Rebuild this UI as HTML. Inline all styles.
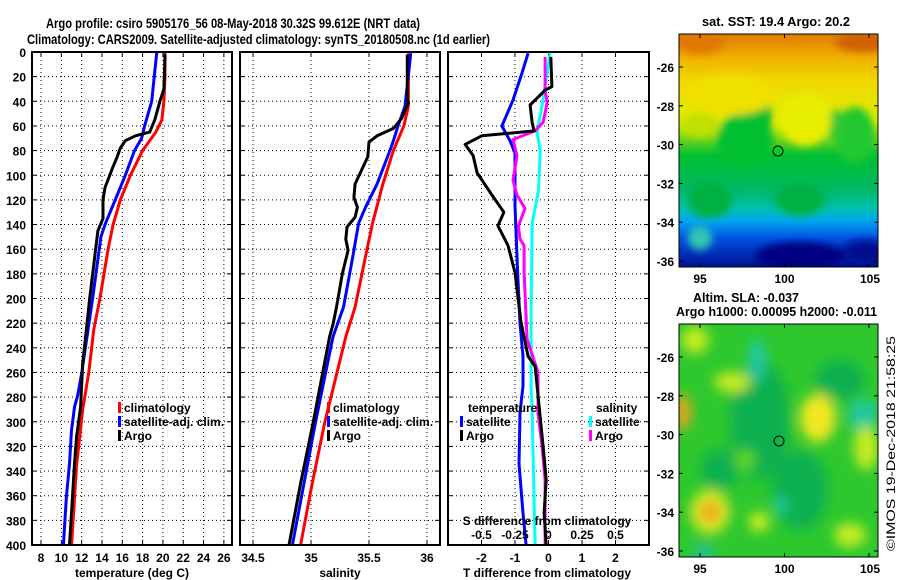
<!DOCTYPE html>
<html><head><meta charset="utf-8"><style>
body{margin:0;background:#fff;}
svg{display:block;font-family:"Liberation Sans",sans-serif;}
text{font-weight:bold;fill:#000;}
</style></head><body>
<svg id="chart" width="900" height="580" viewBox="0 0 900 580" xmlns="http://www.w3.org/2000/svg">
<defs>
<filter id="blur1" x="-20%" y="-20%" width="140%" height="140%"><feGaussianBlur stdDeviation="4"/></filter>
<filter id="blur2" x="-20%" y="-20%" width="140%" height="140%"><feGaussianBlur stdDeviation="6"/></filter>
<clipPath id="cm1"><rect x="679" y="34" width="199" height="233"/></clipPath>
<clipPath id="cm2"><rect x="679" y="324" width="199" height="233"/></clipPath>
<linearGradient id="sstg" x1="0" y1="0" x2="0" y2="1">
<stop offset="0" stop-color="#e07a00"/><stop offset="0.1" stop-color="#f0b000"/><stop offset="0.2" stop-color="#f0d800"/>
<stop offset="0.38" stop-color="#e0ee00"/><stop offset="0.46" stop-color="#60d020"/><stop offset="0.52" stop-color="#00c030"/>
<stop offset="0.66" stop-color="#00b860"/><stop offset="0.75" stop-color="#00c0b0"/><stop offset="0.8" stop-color="#00a8f0"/>
<stop offset="0.88" stop-color="#0050e0"/><stop offset="1" stop-color="#001090"/></linearGradient>
</defs>
<text x="46" y="28" font-size="14" textLength="374" lengthAdjust="spacingAndGlyphs">Argo profile: csiro 5905176_56 08-May-2018 30.32S 99.612E (NRT data)</text>
<text x="27" y="44" font-size="14" textLength="463" lengthAdjust="spacingAndGlyphs">Climatology: CARS2009. Satellite-adjusted climatology: synTS_20180508.nc (1d earlier)</text>
<g id="panels"></g>

<!-- SST map -->
<text x="702" y="26" font-size="13" textLength="148" lengthAdjust="spacingAndGlyphs">sat. SST: 19.4 Argo: 20.2</text>
<g clip-path="url(#cm1)">
<rect x="679" y="34" width="199" height="233" fill="url(#sstg)"/>
<g filter="url(#blur1)">
<ellipse cx="745" cy="140" rx="28" ry="28" fill="#00c030"/>
<ellipse cx="760" cy="118" rx="12" ry="22" fill="#00c030"/>
<ellipse cx="855" cy="135" rx="20" ry="28" fill="#20c830"/>
<ellipse cx="835" cy="125" rx="10" ry="15" fill="#30c830"/>
<ellipse cx="805" cy="120" rx="26" ry="26" fill="#e8ee00"/>
<ellipse cx="700" cy="125" rx="20" ry="12" fill="#c0e000"/>
<ellipse cx="710" cy="200" rx="22" ry="18" fill="#00b040"/>
<ellipse cx="800" cy="200" rx="25" ry="16" fill="#00b040"/>
<ellipse cx="700" cy="238" rx="12" ry="12" fill="#30c8b0"/>
<ellipse cx="800" cy="256" rx="45" ry="14" fill="#000080"/>
<ellipse cx="865" cy="252" rx="22" ry="12" fill="#001090"/>
<ellipse cx="730" cy="95" rx="45" ry="20" fill="#f0e000"/>
<ellipse cx="865" cy="42" rx="30" ry="10" fill="#d06000"/>
<ellipse cx="700" cy="42" rx="25" ry="12" fill="#e07800"/>
</g>
<circle cx="778" cy="151" r="5" fill="#00d020" stroke="#000" stroke-width="1"/>
</g>
<rect x="679" y="34" width="199" height="233" fill="none" stroke="#000" stroke-width="1"/>
<g id="map1axes"></g>

<text x="693" y="302" font-size="13" textLength="106" lengthAdjust="spacingAndGlyphs">Altim. SLA: -0.037</text>
<text x="676" y="316" font-size="13" textLength="201" lengthAdjust="spacingAndGlyphs">Argo h1000: 0.00095 h2000: -0.011</text>

<!-- SLA map -->
<g clip-path="url(#cm2)">
<rect x="679" y="324" width="199" height="233" fill="#2ec82e"/>
<g filter="url(#blur2)">
<ellipse cx="760" cy="420" rx="30" ry="60" fill="#10b050"/>
<ellipse cx="800" cy="490" rx="28" ry="40" fill="#10b050"/>
<ellipse cx="840" cy="380" rx="25" ry="20" fill="#10b050"/>
<ellipse cx="720" cy="470" rx="20" ry="20" fill="#10b050"/>
<ellipse cx="757" cy="360" rx="9" ry="22" fill="#20c8a0"/>
<ellipse cx="863" cy="415" rx="15" ry="16" fill="#20c8a0"/>
<ellipse cx="818" cy="418" rx="18" ry="24" fill="#f0e820"/>
<ellipse cx="683" cy="412" rx="8" ry="18" fill="#f0a020"/>
<ellipse cx="710" cy="512" rx="20" ry="22" fill="#d8e820"/>
<ellipse cx="710" cy="512" rx="10" ry="10" fill="#f0a020"/>
<ellipse cx="732" cy="382" rx="18" ry="10" fill="#c8ec20"/>
<ellipse cx="866" cy="448" rx="12" ry="22" fill="#c8ec20"/>
<ellipse cx="850" cy="535" rx="16" ry="12" fill="#c8ec20"/>
<ellipse cx="759" cy="522" rx="10" ry="10" fill="#d0ec20"/>
<ellipse cx="703" cy="553" rx="10" ry="9" fill="#20c0a0"/>
<ellipse cx="781" cy="505" rx="7" ry="8" fill="#20c8a0"/>
<ellipse cx="695" cy="340" rx="14" ry="14" fill="#c0ec20"/>
<ellipse cx="745" cy="460" rx="10" ry="10" fill="#60d820"/>
</g>
<circle cx="779" cy="441" r="5" fill="none" stroke="#000" stroke-width="1"/>
</g>
<rect x="679" y="324" width="199" height="233" fill="none" stroke="#000" stroke-width="1"/>
<g id="map2axes"></g>
<text transform="translate(895,551) rotate(-90)" font-size="12" style="font-weight:normal" textLength="215" lengthAdjust="spacingAndGlyphs">©IMOS 19-Dec-2018 21:58:25</text>
</svg>
<script>
// ---------- data ----------
const depthTicks = [0,20,40,60,80,100,120,140,160,180,200,220,240,260,280,300,320,340,360,380,400];
const tempTicks = [8,10,12,14,16,18,20,22,24,26];
const salTicks = [34.5,35,35.5,36];
const salTickLabels = ["34.5","35","35.5","36"];
const tdiffTicks = [-2,-1,0,1,2];
const sdiffTicks = [-0.5,-0.25,0,0.25,0.5];
const sdiffTickLabels = ["-0.5","-0.25","0","0.25","0.5"];

const tClimDepth = [0,20,40,55,65,80,100,120,140,160,200,225,260,290,335,375,400];
const tClimVal   = [20.2,20.2,20.1,19.9,19.3,18.0,16.8,15.8,15.1,14.6,13.8,13.2,12.7,12.1,11.5,11.2,11.0];
const tSatDepth = [0,40,60,70,80,100,120,140,150,199,261,279,288,307,334,361,400];
const tSatVal   = [19.4,18.9,18.2,17.9,17.2,16.3,15.3,14.3,13.9,13.1,12.0,11.6,11.3,11.0,10.8,10.5,10.2];
const tArgoDepth = [2,30,40,55,65,68,72,78,85,95,110,120,135,145,199,253,288,312,334,361,400];
const tArgoVal   = [20.2,20.1,19.7,19.2,18.7,17.3,16.3,15.8,15.5,15.0,14.3,14.1,14.1,13.6,12.8,12.1,11.9,11.5,11.3,11.1,10.8];

const sClimDepth = [1,44,60,80,107,139,166,207,231,300,350,400];
const sClimVal   = [35.84,35.84,35.80,35.71,35.62,35.53,35.47,35.38,35.30,35.12,35.01,34.91];
const sSatDepth = [1,44,60,72,80,107,126,139,166,207,231,300,350,400];
const sSatVal   = [35.86,35.81,35.75,35.71,35.68,35.57,35.47,35.41,35.36,35.28,35.19,35.04,34.94,34.84];
const sArgoDepth = [2,39,41,54,62,68,73,85,93,107,118,126,134,142,152,161,180,207,221,231,300,350,400];
const sArgoVal   = [35.83,35.83,35.84,35.78,35.71,35.57,35.50,35.49,35.45,35.38,35.37,35.40,35.38,35.31,35.30,35.32,35.27,35.22,35.19,35.16,35.02,34.91,34.81];

const dtSatDepth = [1,17,39,60,72,82,125,180,220,247,271,293,334,374,400];
const dtSatVal   = [-0.61,-0.79,-1.06,-1.39,-1.15,-1.0,-1.0,-0.92,-0.85,-0.76,-0.76,-0.85,-0.88,-0.76,-0.67];
const dtArgoDepth = [4,28,31,43,57,64,68,75,84,98,116,130,141,157,179,219,247,255,271,320,347,374,400];
const dtArgoVal   = [0.07,0.10,-0.10,-0.55,-0.49,-0.43,-1.99,-2.49,-2.25,-2.13,-1.69,-1.33,-1.51,-1.21,-1.0,-0.82,-0.61,-0.40,-0.34,-0.16,-0.07,-0.13,-0.07];
const dsSatDepth = [1,43,65,80,112,139,207,271,293,400];
const dsSatVal   = [0.012,-0.048,-0.085,-0.062,-0.075,-0.122,-0.130,-0.130,-0.122,-0.10];
const dsArgoDepth = [4,31,41,57,64,71,84,104,116,127,141,152,157,179,233,260,271,293,320,347,400];
const dsArgoVal   = [-0.025,-0.025,-0.010,-0.040,-0.10,-0.265,-0.235,-0.265,-0.235,-0.175,-0.225,-0.212,-0.182,-0.182,-0.16,-0.078,-0.078,-0.078,-0.048,-0.025,-0.025];

const mapLatTicks = [-26,-28,-30,-32,-34,-36];
const mapLonTicks = [95,100,105];

// ---------- helpers ----------
const NS = "http://www.w3.org/2000/svg";
const root = document.getElementById('panels');
function el(tag, attrs, parent){
  const e = document.createElementNS(NS, tag);
  for (const k in attrs) e.setAttribute(k, attrs[k]);
  (parent||root).appendChild(e);
  return e;
}
const Y0 = 52, Y1 = 545;
const yD = d => Y0 + d*(Y1-Y0)/400;

function makePanel(name, x0, x1, vmin, vmax){
  const xs = v => x0 + (v-vmin)*(x1-x0)/(vmax-vmin);
  const g = el('g', {});
  
  
  return {x0, x1, xs, g};
}
function grid(p, ticks, labels, labY){
  for (const d of depthTicks){
    if (d===0||d===400) continue;
    const l = el('line', {x1:p.x0, x2:p.x1, y1:yD(d), y2:yD(d), stroke:'#000', 'stroke-width':1, 'stroke-dasharray':'1,3'}, p.g);
    
    
    el('line', {x1:p.x0, x2:p.x0+5, y1:yD(d), y2:yD(d), stroke:'#000', 'stroke-width':1}, p.g);
    el('line', {x1:p.x1-5, x2:p.x1, y1:yD(d), y2:yD(d), stroke:'#000', 'stroke-width':1}, p.g);
  }
  ticks.forEach((v,i)=>{
    const x = p.xs(v);
    const l = el('line', {x1:x, x2:x, y1:Y0, y2:Y1, stroke:'#000', 'stroke-width':1, 'stroke-dasharray':'1,3'}, p.g);
    
    
    el('line', {x1:x, x2:x, y1:Y0, y2:Y0+5, stroke:'#000', 'stroke-width':1}, p.g);
    el('line', {x1:x, x2:x, y1:Y1-5, y2:Y1, stroke:'#000', 'stroke-width':1}, p.g);
    if (labels){
      const t = el('text', {x:x, y:labY, 'font-size':12, 'text-anchor':'middle'}, p.g);
      t.textContent = labels[i];
      
      
    }
  });
}
function frame(p){
  const r = el('rect', {x:p.x0, y:Y0, width:p.x1-p.x0, height:Y1-Y0, fill:'none', stroke:'#000', 'stroke-width':2}, p.g);
  
  
}
function series(p, name, depths, vals, color, scale){
  const pts = depths.map((d,i)=> p.xs(vals[i]*(scale||1)).toFixed(1)+','+yD(d).toFixed(1)).join(' ');
  const l = el('polyline', {points:pts, fill:'none', stroke:color, 'stroke-width':3, 'stroke-linejoin':'round'}, p.g);
  
  
}
function label(p, name, txt, x, y, size, anchor, len){
  const t = el('text', {x:x, y:y, 'font-size':size||12, 'text-anchor':anchor||'start'}, p.g);
  if (len){ t.setAttribute('textLength', len); t.setAttribute('lengthAdjust','spacingAndGlyphs'); }
  t.textContent = txt;
  
  
}
function legendEntry(p, name, txt, x, y, color){
  const r = el('rect', {x:x, y:y-10, width:3, height:11, fill:color}, p.g);
  
  
  label(p, name, txt, x+6, y, 12);
}

// ---------- panel 1: temperature ----------
const p1 = makePanel('temperature-panel', 32, 232, 7.113, 26.8);
grid(p1, tempTicks, tempTicks.map(String), 562);
depthTicks.forEach(d=>{
  const t = el('text', {x:26, y:yD(d)+5, 'font-size':12, 'text-anchor':'end'}, p1.g);
  t.textContent = d;
  
  
});
series(p1, 'temp-climatology-line', tClimDepth, tClimVal, '#ff0000');
series(p1, 'temp-satellite-line', tSatDepth, tSatVal, '#0000ff');
series(p1, 'temp-argo-line', tArgoDepth, tArgoVal, '#000000');
frame(p1);
label(p1, 'temperature-axis-title', 'temperature (deg C)', 132, 577, 12, 'middle');
legendEntry(p1, 'legend-climatology', 'climatology', 118, 412, '#ff0000');
legendEntry(p1, 'legend-satellite-adj', 'satellite-adj. clim.', 118, 426, '#0000ff');
legendEntry(p1, 'legend-argo', 'Argo', 118, 440, '#000000');

// ---------- panel 2: salinity ----------
const p2 = makePanel('salinity-panel', 240, 440, 34.388, 36.112);
grid(p2, salTicks, salTickLabels, 562);
series(p2, 'sal-climatology-line', sClimDepth, sClimVal, '#ff0000');
series(p2, 'sal-satellite-line', sSatDepth, sSatVal, '#0000ff');
series(p2, 'sal-argo-line', sArgoDepth, sArgoVal, '#000000');
frame(p2);
label(p2, 'salinity-axis-title', 'salinity', 340, 577, 12, 'middle');
legendEntry(p2, 'legend-sal-climatology', 'climatology', 327, 412, '#ff0000');
legendEntry(p2, 'legend-sal-satellite-adj', 'satellite-adj. clim.', 327, 426, '#0000ff');
legendEntry(p2, 'legend-sal-argo', 'Argo', 327, 440, '#000000');

// ---------- panel 3: differences ----------
const p3 = makePanel('difference-panel', 448, 649, -3, 3);
grid(p3, tdiffTicks, tdiffTicks.map(String), 562);
series(p3, 'dt-satellite-line', dtSatDepth, dtSatVal, '#0000ff');
series(p3, 'ds-satellite-line', dsSatDepth, dsSatVal, '#00ffff', 4);
series(p3, 'ds-argo-line', dsArgoDepth, dsArgoVal, '#ff00ff', 4);
series(p3, 'dt-argo-line', dtArgoDepth, dtArgoVal, '#000000');
frame(p3);
label(p3, 'tdiff-axis-title', 'T difference from climatology', 547, 577, 12, 'middle');
label(p3, 'sdiff-axis-title', 'S difference from climatology', 547, 525, 12, 'middle');
sdiffTicks.forEach((v,i)=> label(p3, 'sdiff-tick-label', sdiffTickLabels[i], p3.xs(v*4), 539, 12, 'middle'));
label(p3, 'legend-temperature-title', 'temperature', 468, 412, 12);
legendEntry(p3, 'legend-dt-satellite', 'satellite', 460, 426, '#0000ff');
legendEntry(p3, 'legend-dt-argo', 'Argo', 460, 440, '#000000');
label(p3, 'legend-salinity-title', 'salinity', 596, 412, 12);
legendEntry(p3, 'legend-ds-satellite', 'satellite', 589, 426, '#00ffff');
legendEntry(p3, 'legend-ds-argo', 'Argo', 589, 440, '#ff00ff');

// ---------- map axes ----------
function mapAxes(id, top){
  const g = document.getElementById(id);
  const lonX = lon => 700 + (lon-95)*16.9;
  const latY = lat => top + 33 + (-26-lat)*19.4;
  mapLatTicks.forEach(lat=>{
    const y = latY(lat);
    el('line', {x1:679, x2:683, y1:y, y2:y, stroke:'#000'}, g);
    el('line', {x1:874, x2:878, y1:y, y2:y, stroke:'#000'}, g);
    const t = el('text', {x:674, y:y+5, 'font-size':12, 'text-anchor':'end'}, g);
    t.textContent = lat;
    
    
  });
  mapLonTicks.forEach(lon=>{
    const x = lonX(lon);
    el('line', {x1:x, x2:x, y1:top, y2:top+4, stroke:'#000'}, g);
    el('line', {x1:x, x2:x, y1:top+229, y2:top+233, stroke:'#000'}, g);
    const t = el('text', {x:lon===105?880:x, y:top+249, 'font-size':12, 'text-anchor':lon===105?'end':'middle'}, g);
    t.textContent = lon;
    
    
  });
}
mapAxes('map1axes', 34);
mapAxes('map2axes', 324);
</script>
</body></html>
